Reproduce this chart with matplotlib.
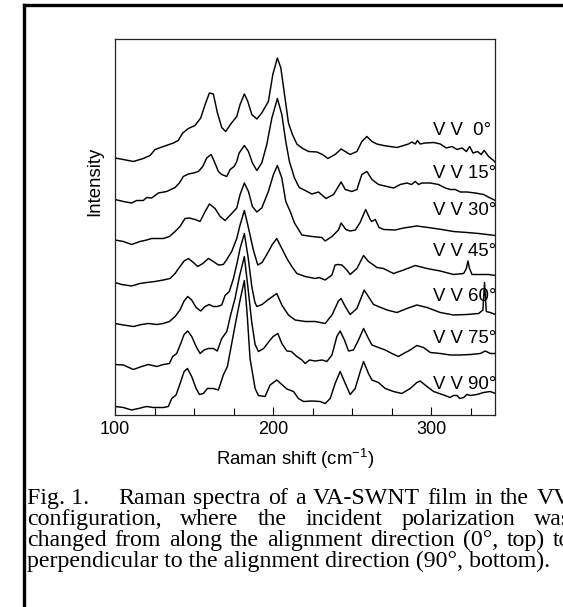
import matplotlib
matplotlib.use('Agg')
import matplotlib.pyplot as plt
from matplotlib.lines import Line2D

# ---------------- data (Raman shift in cm^-1, intensity in arbitrary units, offset stacked) -------------
x_0 = [100, 105.3, 111.6, 117.9, 122.2, 125.3, 130.6, 136.9, 140, 142.8, 146.4, 150.6, 154.2, 157, 159.7,
       162.2, 164.8, 167.5, 170, 173.2, 177, 179.1, 181.8, 184, 186.5, 189.7, 192.8, 197, 199.8, 202.7, 204.9,
       207.2, 209.7, 212.2, 215, 218.2, 222.4, 227.7, 231.2, 234.6, 239.2, 243, 248.7, 253, 256.1, 259.3,
       262.5, 265.6, 269.8, 274, 278.3, 282.5, 285.6, 287.8, 289.9, 291.3, 293, 296.2, 301.5, 305.7, 309.5,
       313.1, 316.3, 319.4, 322.2, 324.3, 326.4, 329.3, 331.5, 333.5, 336.3, 339.4, 340.5]
I_0 = [256.5, 255, 253, 256, 259, 265, 268, 271.5, 274, 281.5, 286, 289, 296.5, 310, 321.5,
       320.5, 301.5, 287, 283, 290.5, 298, 310, 320.5, 313, 300, 295.5, 301.5, 313, 340, 356.5, 346.5,
       320, 291.5, 280, 270.5, 266.5, 263, 262.5, 260, 256, 260, 265.5, 260, 263, 273, 278,
       273, 270.5, 269, 268, 267, 269, 270.5, 272.5, 270.5, 274, 270.5, 271.5, 272, 270.5, 266.5,
       268, 265, 266.5, 263, 268, 261.5, 263, 260, 264, 258, 254, 252]

x_15 = [100, 105.3, 110.5, 113.7, 117.9, 120, 123.2, 127.4, 132.7, 138, 140.7, 143.2, 146.4, 149.6, 152.7,
        155.5, 158, 160.8, 162.8, 165.4, 167.5, 170.7, 172.8, 175.3, 177, 178.5, 181.8, 184.4, 186.9, 189.7,
        192.8, 196, 199.2, 202.7, 205.5, 208, 210.3, 213.5, 216.5, 220.3, 224.5, 228.7, 233.4, 238.2, 243,
        245.6, 249.8, 253, 256.1, 259.3, 262.5, 266.6, 272, 276.2, 280.4, 284.6, 287.5, 289.9, 292, 294.1,
        299.4, 304.6, 308.9, 312, 315.2, 318.4, 322.6, 327.8, 333.1, 337.3, 340.5]
I_15 = [215, 213, 211.5, 214, 214, 217, 216.5, 221.5, 223, 227, 231.5, 238, 240.5, 241.5, 243,
        248, 256.5, 260, 253, 243, 240, 238, 245, 248, 253, 261.5, 269, 263, 251.5, 244,
        251.5, 270, 296.5, 316, 300, 273, 253, 236.5, 227, 224, 220.5, 222.5, 216, 220, 232.5,
        225, 223, 225, 240, 243, 235, 230, 228, 226.5, 230, 231.5, 230, 233, 230, 231.5,
        231.5, 230, 226.5, 225, 225, 222.5, 222.5, 221.5, 220, 216.5, 214]

x_30 = [100, 105.3, 110.5, 115.8, 120, 123.2, 126.4, 130.6, 134.4, 138, 141.1, 144.3, 147, 150.6, 153.8,
        157, 159.7, 163.3, 166.5, 169.6, 173.2, 177, 179.1, 181.8, 184.4, 186.9, 189.7, 192.8, 197, 200.2,
        202.7, 205.5, 208, 210.8, 213.5, 218.2, 224.5, 230.8, 232.9, 237.2, 241.3, 243, 246, 248.7, 252,
        255, 258.5, 261.4, 262.4, 264.6, 267, 270, 277.2, 282.5, 290.8, 298, 306.7, 314, 322.7, 330, 340.5]
I_30 = [174.5, 173, 170, 173, 174.5, 176, 176, 176, 178, 183, 188, 196, 196.5, 195, 193,
        203, 210.5, 206, 198, 194, 200, 206.5, 220, 231.5, 223, 208, 202.5, 206.5, 223, 240,
        249, 236.5, 213, 203, 191.5, 179.5, 178, 177, 173.5, 178, 184.5, 191.5, 185, 183.5, 184.5,
        192, 205, 195, 193, 195, 187, 185, 184.5, 186.5, 188.5, 187, 185, 183, 182, 181, 179]

x_45 = [100, 104.2, 110.5, 115.8, 120, 125.3, 130.6, 134.8, 138, 141.1, 143.7, 146.4, 149.6, 152.3, 155.5,
        159.1, 162.2, 165.4, 168.5, 170.7, 173.8, 177, 179.1, 181.8, 184.2, 187.5, 190.3, 193, 196, 199.5,
        202.3, 205.5, 208.7, 211.8, 215, 220.3, 226.6, 229, 232.9, 237.2, 239.2, 241, 243.5, 246.6, 248.7,
        253, 257.2, 260.3, 263.5, 265.6, 269.8, 276.1, 282.5, 289.9, 297.3, 305.7, 314.1, 320.5, 322.2,
        323.2, 324.2, 325.8, 331, 336.3, 340.5]
I_45 = [132, 130, 128.5, 131, 132, 133, 134.5, 136, 141, 148, 153.5, 156, 152, 148, 151,
        156, 153, 149.5, 150, 155, 163, 176, 189.5, 204, 188, 164.5, 149.5, 152, 160, 170,
        176, 166, 156, 148, 141, 138, 136, 137, 134.5, 139.5, 149.5, 150, 149.5, 144.5, 140,
        146, 159, 153, 149.5, 147, 146, 141, 144.5, 149, 146, 143.5, 140, 141, 146,
        153.5, 146, 140, 140, 140, 139]

x_60 = [100, 105.3, 111.6, 116.9, 121.1, 126.4, 130.6, 134.4, 138, 141.1, 143.7, 146, 148.5, 151.3, 154.2,
        157, 159.5, 162.2, 164.7, 167.5, 169.6, 172.3, 174.9, 177.4, 179.1, 181.8, 184.2, 186.5, 188.5, 189.7,
        193, 197, 202.3, 205.5, 209.7, 213.9, 220.3, 226.6, 232.9, 237.2, 241.3, 243, 245.6, 248.7, 253,
        257.6, 261, 263.5, 266.6, 272, 278.3, 284.6, 290.9, 297.3, 305.7, 314.1, 322.6, 330, 332.7, 333.7,
        334.8, 337.3, 340.5]
I_60 = [91, 89.5, 88, 90, 91, 90, 91, 93, 98, 104.5, 113.5, 118, 114.5, 107, 103.5,
        108, 110, 108, 108, 109.5, 119, 123, 136, 153, 166, 181, 157, 128, 112, 108,
        110, 115, 121, 109.5, 99.5, 94.5, 93, 93, 91, 99.5, 113.5, 116, 108, 100, 106,
        124.5, 116, 110, 108, 104.5, 102, 106, 109.5, 107, 102, 99.5, 100, 101, 104.5, 132,
        103, 102, 100]

x_75 = [100, 105.3, 111.6, 116.9, 121.1, 126.4, 130.6, 134.4, 136.5, 139, 141.6, 143.7, 146, 148.5, 151.3,
        153.8, 156.3, 159.1, 162.2, 164.7, 167.5, 170.7, 173.2, 175.9, 178.7, 181.8, 184, 186.5, 188.6, 190.7,
        194, 198.1, 200, 203, 205.5, 208.7, 211.5, 215, 218.2, 220.3, 223, 226.6, 231, 234, 237.2,
        240.3, 242.4, 245.1, 247.7, 250.8, 254, 257.2, 260.3, 262.5, 266.6, 270.9, 275.1, 279.3, 282.5, 286.7,
        290.9, 295.1, 299.4, 305.7, 312, 318.4, 324.7, 331, 334.2, 337.3, 340.5]
I_75 = [50, 49.5, 45, 48, 50, 48, 50, 51, 58, 61, 71, 80, 83.5, 78, 68,
        61, 64.5, 66, 66, 63.5, 76, 83, 100, 116, 138, 158, 128, 92, 70, 63,
        66, 74.5, 78, 81, 71, 63.5, 63, 58, 54.5, 51, 54.5, 53.5, 54.5, 53, 59.5,
        78, 83.5, 74.5, 63.5, 64.5, 74.5, 86, 76, 69.5, 67, 64.5, 61, 58, 61, 64.5,
        69, 67, 62, 61, 59.5, 59.5, 60, 61, 63.5, 61, 61]

x_90 = [100, 105.3, 110.5, 114.8, 120, 124.3, 130.6, 133.7, 135.9, 138.6, 141.6, 143.7, 145.8, 148.5, 151.3,
        153.4, 155.9, 158.4, 162.2, 165.4, 168.5, 171.1, 173.8, 176.6, 179.1, 181.8, 183.6, 185.4, 188.6, 190.7,
        194.9, 198.1, 202.3, 205.5, 208.7, 212.9, 216, 219.2, 224.5, 229.7, 232.9, 236.1, 239.2, 242.4, 245.1,
        248.7, 251.9, 255.1, 257.2, 260.3, 262.5, 266.6, 270.9, 276.1, 281.4, 286.7, 290.9, 293, 297.3, 301.5,
        307.8, 312, 314, 316.3, 318, 320.5, 322.5, 324.7, 328.9, 333.1, 337.3, 340.5]
I_90 = [8, 7, 4.5, 6, 8, 7, 7, 8, 16, 19.5, 33, 43, 46, 38, 26,
        20, 21, 26, 26, 24.5, 39.5, 48, 71, 94.5, 114.5, 134, 100, 56, 26, 19,
        18, 29.5, 34.5, 30, 25.5, 23, 16, 13, 13.5, 13, 11, 16, 31, 43, 33,
        20, 26, 43, 53, 41, 34.5, 32, 26, 23, 21, 26, 32, 33.5, 28, 23,
        19.5, 17, 19, 19, 16, 17, 20, 19, 20, 22, 23, 21]

spectra_x = [x_0, x_15, x_30, x_45, x_60, x_75, x_90]
spectra_I = [I_0, I_15, I_30, I_45, I_60, I_75, I_90]
labels = ['V V  0°', 'V V 15°', 'V V 30°', 'V V 45°', 'V V 60°', 'V V 75°', 'V V 90°']
label_I = [283.8, 240.5, 203.8, 162.8, 117.8, 76.2, 30.2]
label_x = 301.3

xticks_major = [100, 200, 300]
xticks_minor = [125, 150, 175, 225, 250, 275, 325]

caption_prefix = 'Fig. 1.'
caption_line1 = ['Raman', 'spectra', 'of', 'a', 'VA-SWNT', 'film', 'in', 'the', 'VV']
caption_line2 = ['configuration,', 'where', 'the', 'incident', 'polarization', 'was']
caption_line3 = ['changed', 'from', 'along', 'the', 'alignment', 'direction', '(0°,', 'top)', 'to']
caption_line4 = 'perpendicular to the alignment direction (90°, bottom).'

# ---------------- figure -----------------
W, H, DPI = 563, 607, 100
plt.rcParams['font.family'] = ['Liberation Sans', 'DejaVu Sans']
plt.rcParams['mathtext.fontset'] = 'custom'
plt.rcParams['mathtext.rm'] = 'Liberation Sans'

fig = plt.figure(figsize=(W / DPI, H / DPI), dpi=DPI)
fig.patch.set_facecolor('white')
renderer = fig.canvas.get_renderer()


def fx(px):
    return px / W


def fy(py):
    return 1 - py / H


ax_l, ax_r, ax_t, ax_b = 115, 494.5, 38.5, 414.5
ax = fig.add_axes([fx(ax_l), fy(ax_b), (ax_r - ax_l) / W, (ax_b - ax_t) / H])

for xs, ys in zip(spectra_x, spectra_I):
    ax.plot(xs, ys, color='black', lw=1.05, solid_joinstyle='round')

for lab, yy in zip(labels, label_I):
    ax.text(label_x, yy, lab, fontsize=13.4, ha='left', va='center', clip_on=True, color='black')

ax.set_xlim(100, 340)
ax.set_ylim(0, 376)
ax.set_xticks(xticks_major)
ax.set_xticks(xticks_minor, minor=True)
ax.set_xticklabels([str(v) for v in xticks_major], fontsize=13)
ax.set_yticks([])
ax.tick_params(axis='x', which='major', direction='in', length=6, width=0.8, pad=4.5, top=False)
ax.tick_params(axis='x', which='minor', direction='in', length=5, width=0.8, top=False)
for s in ax.spines.values():
    s.set_linewidth(0.9)
    s.set_color('#222222')

fig.text(fx(95), fy(181.5), 'Intensity', rotation=90, ha='center', va='center', fontsize=13.4)
fig.text(fx(295), fy(459), r'Raman shift (cm$^{\mathregular{-1}}$)', ha='center', va='center', fontsize=13.4)

# outer frame (clipped on right and bottom)
fig.add_artist(Line2D([fx(23.7), fx(W + 5)], [fy(5), fy(5)], color='black', lw=2.4,
                      transform=fig.transFigure, solid_capstyle='projecting'))
fig.add_artist(Line2D([fx(23.7), fx(23.7)], [fy(5), fy(H + 5)], color='black', lw=2.4,
                      transform=fig.transFigure, solid_capstyle='projecting'))

serif = ['Liberation Serif', 'DejaVu Serif']
CAP_FS = 17.2
baselines = [504, 525, 546, 567]
RIGHT = 571


def justify(words, x_start, x_end, baseline):
    texts = [fig.text(0, fy(baseline), w, family=serif, fontsize=CAP_FS, ha='left', va='baseline')
             for w in words]
    widths = [t.get_window_extent(renderer).width for t in texts]
    gap = (x_end - x_start - sum(widths)) / (len(words) - 1)
    x = x_start
    for t, w in zip(texts, widths):
        t.set_x(fx(x))
        x += w + gap


fig.text(fx(27), fy(baselines[0]), caption_prefix, family=serif, fontsize=CAP_FS, ha='left', va='baseline')
justify(caption_line1, 118.5, RIGHT, baselines[0])
justify(caption_line2, 27, RIGHT, baselines[1])
justify(caption_line3, 27, RIGHT, baselines[2])
fig.text(fx(27), fy(baselines[3]), caption_line4, family=serif, fontsize=CAP_FS, ha='left', va='baseline')

fig.savefig('out.png', dpi=DPI)
